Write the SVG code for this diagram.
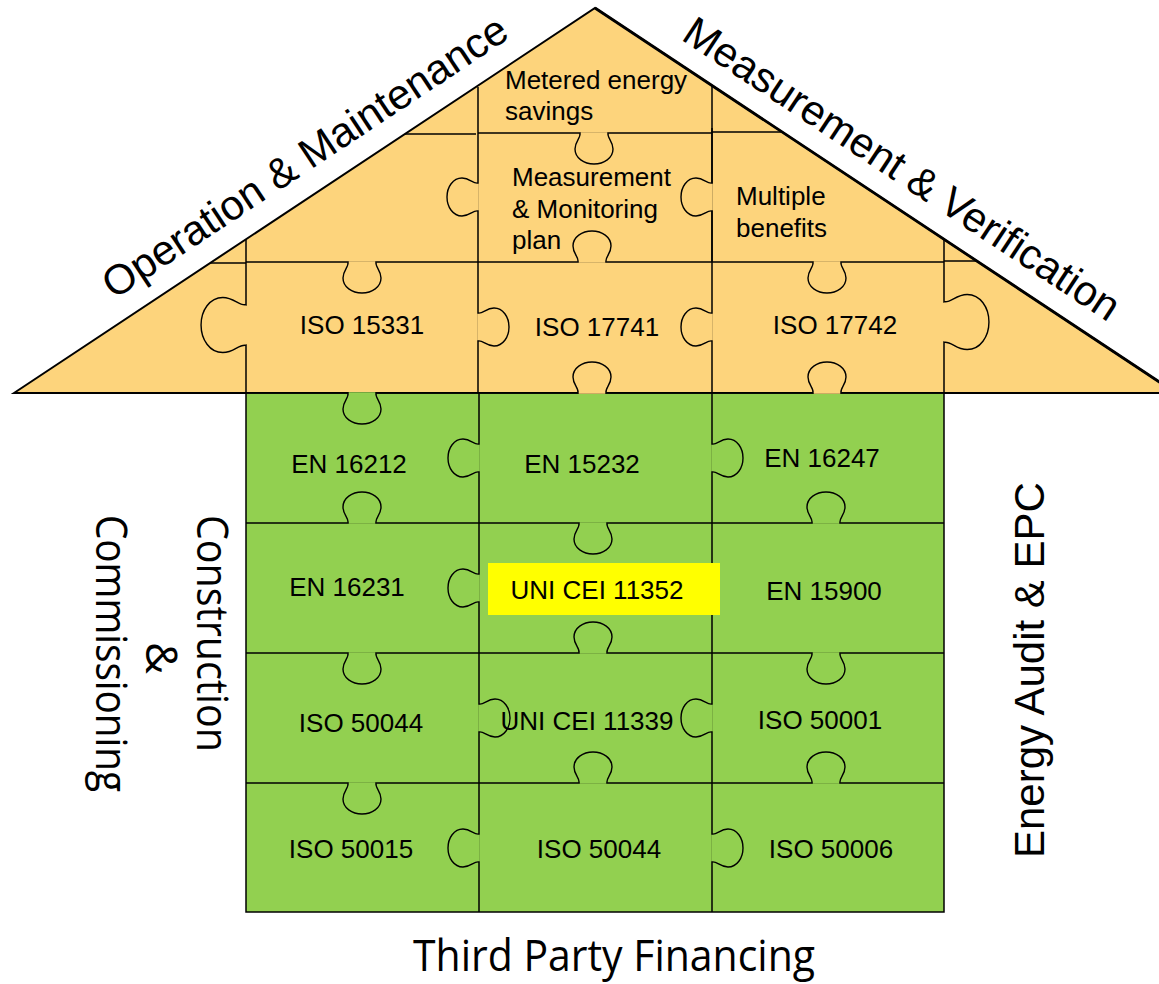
<svg xmlns="http://www.w3.org/2000/svg" xmlns:xlink="http://www.w3.org/1999/xlink" width="1159" height="984" viewBox="0 0 1159 984">
<style>
.ln{stroke:#000;stroke-width:1.5;fill:none}
.lbl{font-family:"Liberation Sans",Arial,sans-serif;font-size:26px;fill:#000}
.big{font-family:"Liberation Sans",Arial,sans-serif;font-size:42px;fill:#000}
.side{font-family:"Open Sans","DejaVu Sans",sans-serif;font-size:44px;fill:#000}
.or{fill:#fdd47c}
.gr{fill:#92d050}
</style>
<defs>
<g id="k"><rect x="-13.3" y="-1.6" width="26.6" height="2.4" stroke="none"/><path stroke="#000" stroke-width="1.4" vector-effect="non-scaling-stroke" d="M -14 0 C -13 -5 -19 -8 -19 -16 C -19 -25 -10 -31 0 -31 C 10 -31 19 -25 19 -16 C 19 -8 13 -5 14 0"/></g>
</defs>
<rect width="1159" height="984" fill="#fff"/>
<g id="roof">
<polygon points="14,393 595,8 1176,393" fill="#fdd47c" stroke="#000" stroke-width="2"/>
<line x1="595" y1="8" x2="1176" y2="393" stroke="#000" stroke-width="2.8"/>
</g>
<g id="body">
<rect x="246" y="393" width="698" height="519" fill="#92d050" stroke="#000" stroke-width="1.5"/>
</g>
<g id="grid">
<path class="ln" d="M 210 263 H 246 M 246 239 V 393 M 246 262 H 944 M 405 134 H 476 M 478 87 V 393 M 478 133 H 712 M 712 85 V 393 M 712 132 H 783 M 944 238 V 393 M 944 261 H 978 M 14 393 H 1159"/>
<path class="ln" d="M 712 128 V 262" stroke-width="2.5"/>
<path class="ln" d="M 479 393 V 912 M 712 393 V 912 M 246 523 H 944 M 246 653 H 944 M 246 783 H 944"/>
<use xlink:href="#k" class="or" transform="translate(362,262) rotate(180)"/>
<use xlink:href="#k" class="or" transform="translate(592,262)"/>
<use xlink:href="#k" class="or" transform="translate(827,262) rotate(180)"/>
<use xlink:href="#k" class="or" transform="translate(594,133) rotate(180)"/>
<use xlink:href="#k" class="or" transform="translate(478,197) rotate(-90)"/>
<use xlink:href="#k" class="or" transform="translate(712,197) rotate(-90)"/>
<use xlink:href="#k" class="or" transform="translate(246,325) rotate(-90) scale(1.45)"/>
<use xlink:href="#k" class="or" transform="translate(478,327) rotate(90)"/>
<use xlink:href="#k" class="or" transform="translate(712,327) rotate(-90)"/>
<use xlink:href="#k" class="or" transform="translate(944,322) rotate(90) scale(1.45)"/>
<use xlink:href="#k" class="or" transform="translate(592,393)"/>
<use xlink:href="#k" class="or" transform="translate(827,393)"/>
<use xlink:href="#k" class="gr" transform="translate(362,393) rotate(180)"/>
<use xlink:href="#k" class="gr" transform="translate(362,523)"/>
<use xlink:href="#k" class="gr" transform="translate(593,523) rotate(180)"/>
<use xlink:href="#k" class="gr" transform="translate(826,523)"/>
<use xlink:href="#k" class="gr" transform="translate(362,653) rotate(180)"/>
<use xlink:href="#k" class="gr" transform="translate(593,653)"/>
<use xlink:href="#k" class="gr" transform="translate(826,653) rotate(180)"/>
<use xlink:href="#k" class="gr" transform="translate(362,783) rotate(180)"/>
<use xlink:href="#k" class="gr" transform="translate(593,783)"/>
<use xlink:href="#k" class="gr" transform="translate(826,783)"/>
<use xlink:href="#k" class="gr" transform="translate(479,458) rotate(-90)"/>
<use xlink:href="#k" class="gr" transform="translate(712,458) rotate(90)"/>
<use xlink:href="#k" class="gr" transform="translate(479,588) rotate(-90)"/>
<use xlink:href="#k" class="gr" transform="translate(479,718) rotate(90)"/>
<use xlink:href="#k" class="gr" transform="translate(712,718) rotate(-90)"/>
<use xlink:href="#k" class="gr" transform="translate(479,848) rotate(-90)"/>
<use xlink:href="#k" class="gr" transform="translate(712,848) rotate(90)"/>
</g>
<g id="n-metered"><text class="lbl" x="505" y="89">Metered energy</text><text class="lbl" x="505" y="120">savings</text></g>
<g id="n-mmplan"><text class="lbl" x="512" y="186">Measurement</text><text class="lbl" x="512" y="218">&amp; Monitoring</text><text class="lbl" x="512" y="249">plan</text></g>
<g id="n-multiple"><text class="lbl" x="736" y="205">Multiple</text><text class="lbl" x="736" y="237">benefits</text></g>
<g id="n-iso15331"><text class="lbl" x="362" y="334" text-anchor="middle">ISO 15331</text></g>
<g id="n-iso17741"><text class="lbl" x="597" y="336" text-anchor="middle">ISO 17741</text></g>
<g id="n-iso17742"><text class="lbl" x="835" y="334" text-anchor="middle">ISO 17742</text></g>
<g id="n-en16212"><text class="lbl" x="349" y="473" text-anchor="middle">EN 16212</text></g>
<g id="n-en15232"><text class="lbl" x="582" y="473" text-anchor="middle">EN 15232</text></g>
<g id="n-en16247"><text class="lbl" x="822" y="467" text-anchor="middle">EN 16247</text></g>
<g id="n-en16231"><text class="lbl" x="347" y="596" text-anchor="middle">EN 16231</text></g>
<g id="n-uni11352"><rect x="488" y="563" width="232" height="52" fill="#ffff00"/><text class="lbl" x="597" y="599" text-anchor="middle">UNI CEI 11352</text></g>
<g id="n-en15900"><text class="lbl" x="824" y="600" text-anchor="middle">EN 15900</text></g>
<g id="n-iso50044a"><text class="lbl" x="361" y="732" text-anchor="middle">ISO 50044</text></g>
<g id="n-uni11339"><text class="lbl" x="587" y="730" text-anchor="middle">UNI CEI 11339</text></g>
<g id="n-iso50001"><text class="lbl" x="820" y="729" text-anchor="middle">ISO 50001</text></g>
<g id="n-iso50015"><text class="lbl" x="351" y="858" text-anchor="middle">ISO 50015</text></g>
<g id="n-iso50044b"><text class="lbl" x="599" y="858" text-anchor="middle">ISO 50044</text></g>
<g id="n-iso50006"><text class="lbl" x="831" y="858" text-anchor="middle">ISO 50006</text></g>
<g id="t-om"><text class="big" transform="translate(114,300) rotate(-33.5)">Operation &amp; Maintenance</text></g>
<g id="t-mv"><text class="big" transform="translate(680,39) rotate(33.5)">Measurement &amp; Verification</text></g>
<g id="t-ea"><text class="big" transform="translate(1044,858) rotate(-90)">Energy Audit &amp; EPC</text></g>
<g id="t-cc">
<text class="side" transform="translate(197,515) rotate(90)" textLength="237" lengthAdjust="spacingAndGlyphs">Construction</text>
<text class="side" transform="translate(146,642) rotate(90)">&amp;</text>
<text class="side" transform="translate(96,515) rotate(90)" textLength="277" lengthAdjust="spacingAndGlyphs">Commissioning</text>
</g>
<g id="t-tpf"><text class="side" x="413" y="971" font-size="38" textLength="402" lengthAdjust="spacingAndGlyphs">Third Party Financing</text></g>
</svg>
